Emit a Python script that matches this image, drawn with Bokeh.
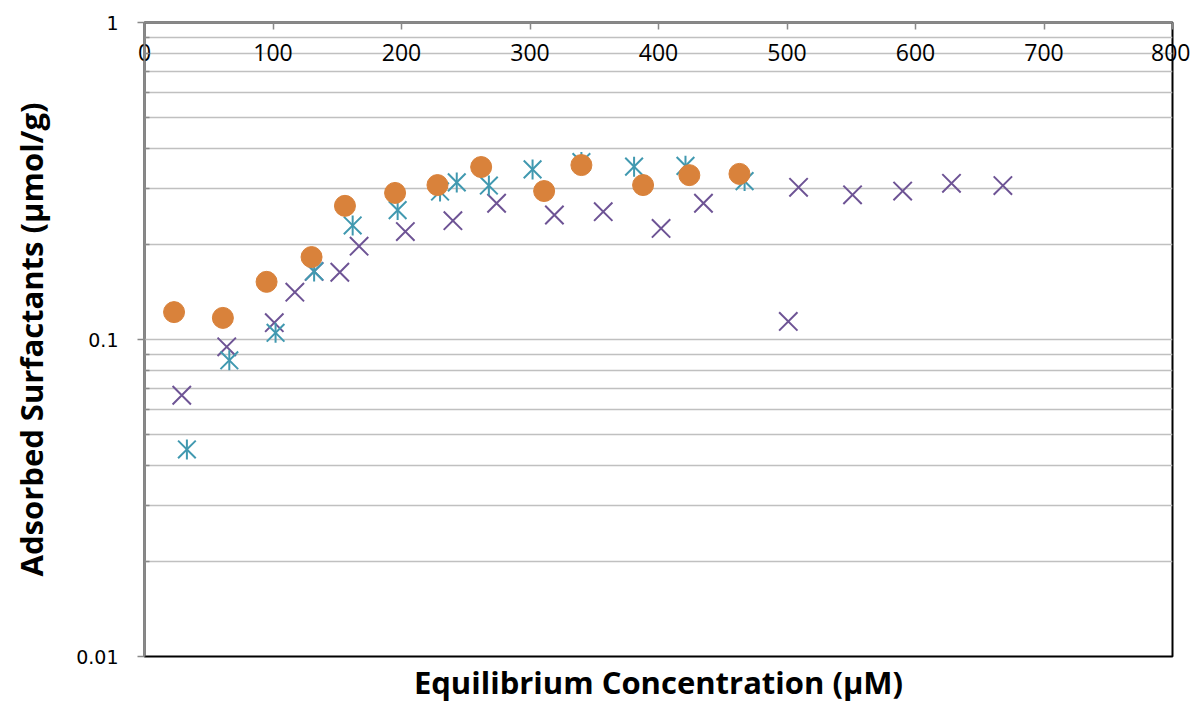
from bokeh.plotting import figure
from bokeh.models import LinearAxis, FixedTicker, CustomJSTickFormatter
from bokeh.embed import file_html
from bokeh.resources import INLINE

# ---- data ----
orange_x = [23, 61, 95, 130, 156, 195, 228, 262, 311, 340, 388, 424, 463]
orange_y = [0.122, 0.117, 0.152, 0.182, 0.264, 0.290, 0.307, 0.350, 0.294, 0.355, 0.307, 0.330, 0.333]

teal_x = [33, 66, 102, 132, 162, 197, 230, 243, 268, 302, 340, 381, 421, 467]
teal_y = [0.045, 0.086, 0.105, 0.164, 0.229, 0.256, 0.293, 0.313, 0.306, 0.344, 0.363, 0.351, 0.353, 0.316]

purple_x = [29, 64, 101, 117, 132, 152, 167, 203, 240, 274, 319, 357, 402, 435, 501, 509, 551, 590, 628, 668]
purple_y = [0.0667, 0.0948, 0.113, 0.141, 0.164, 0.163, 0.197, 0.219, 0.237, 0.269, 0.247, 0.253,
            0.224, 0.269, 0.114, 0.302, 0.286, 0.294, 0.311, 0.306]

x_ticks = [0, 100, 200, 300, 400, 500, 600, 700, 800]
y_ticks = [0.01, 0.1, 1]
y_minor = [0.02, 0.03, 0.04, 0.05, 0.06, 0.07, 0.08, 0.09,
           0.2, 0.3, 0.4, 0.5, 0.6, 0.7, 0.8, 0.9]

x_title = "Equilibrium Concentration (µM)"
y_title = "Adsorbed Surfactants (µmol/g)"

ORANGE = "#D9823B"
TEAL = "#4199B0"
PURPLE = "#6E5495"
AXIS_GRAY = "#898989"
GRID_GRAY = "#C0C0C0"
TITLE_FONT = "Open Sans"

p = figure(width=1190, height=705, x_range=(0, 800), y_range=(0.01, 1),
           y_axis_type="log", x_axis_location="above",
           output_backend="svg", toolbar_location=None,
           min_border_left=144, min_border_right=18, min_border_top=22,
           min_border_bottom=47)

p.outline_line_color = "black"
p.outline_line_width = 2
p.background_fill_color = "white"
p.border_fill_color = "white"

# top x axis
xa = p.xaxis[0]
xa.ticker = FixedTicker(ticks=x_ticks)
xa.axis_line_color = AXIS_GRAY
xa.axis_line_width = 2
xa.major_tick_line_color = AXIS_GRAY
xa.major_tick_line_width = 1.5
xa.major_tick_in = 7
xa.major_tick_out = 0
xa.minor_tick_line_color = None
xa.major_label_text_font = "Open Sans"
xa.major_label_text_font_size = "23px"
xa.major_label_text_color = "black"
xa.major_label_standoff = -38

# bottom axis used only for the title
bx = LinearAxis(ticker=FixedTicker(ticks=[]), axis_label=x_title)
bx.axis_line_color = None
bx.major_tick_line_color = None
bx.minor_tick_line_color = None
bx.axis_label_text_font = TITLE_FONT
bx.axis_label_text_font_style = "bold"
bx.axis_label_text_font_size = "31px"
bx.axis_label_text_color = "black"
bx.axis_label_standoff = 4
p.add_layout(bx, "below")

# left y axis
ya = p.yaxis[0]
ya.ticker = FixedTicker(ticks=y_ticks, minor_ticks=y_minor)
ya.formatter = CustomJSTickFormatter(code="return String(tick);")
ya.axis_line_color = AXIS_GRAY
ya.axis_line_width = 2
ya.major_tick_line_color = AXIS_GRAY
ya.major_tick_line_width = 1.5
ya.major_tick_out = 7
ya.major_tick_in = 0
ya.minor_tick_line_color = AXIS_GRAY
ya.minor_tick_line_width = 1.5
ya.minor_tick_in = 5
ya.minor_tick_out = 0
ya.major_label_text_font = "DejaVu Sans"
ya.major_label_text_font_size = "19px"
ya.major_label_text_color = "black"
ya.major_label_standoff = 19
ya.axis_label = y_title
ya.axis_label_text_font = TITLE_FONT
ya.axis_label_text_font_style = "bold"
ya.axis_label_text_font_size = "31px"
ya.axis_label_text_color = "black"
ya.axis_label_standoff = 21

p.xgrid.grid_line_color = None
p.ygrid.grid_line_color = GRID_GRAY
p.ygrid.grid_line_width = 1.5
p.ygrid.minor_grid_line_color = GRID_GRAY
p.ygrid.minor_grid_line_width = 1.5

# series
p.scatter(purple_x, purple_y, marker="x", size=26, line_color=PURPLE, line_width=2)
p.scatter(teal_x, teal_y, marker="x", size=25, line_color=TEAL, line_width=2)
p.scatter(teal_x, teal_y, marker="dash", size=20, angle=1.5708, line_color=TEAL, line_width=2)
p.scatter(orange_x, orange_y, marker="circle", size=21, fill_color=ORANGE, line_color=ORANGE)

open("out.html", "w").write(file_html(p, INLINE))
